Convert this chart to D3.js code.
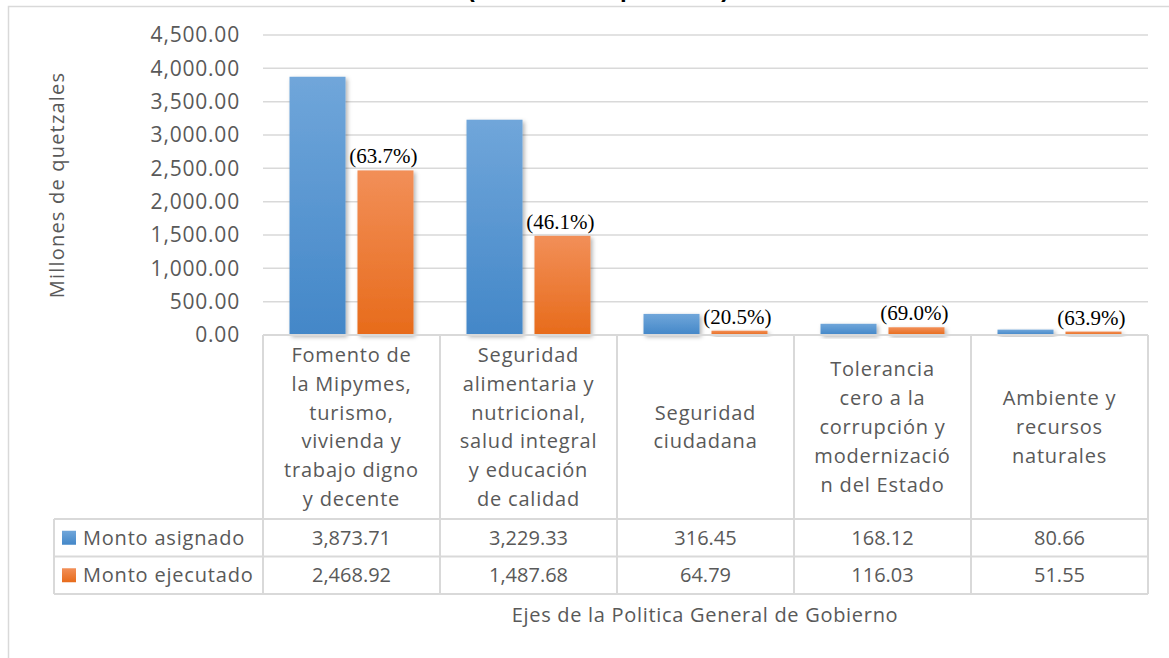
<!DOCTYPE html>
<meta charset="utf-8">
<script src="https://d3js.org/d3.v7.min.js"></script>
<style>
  body { margin: 0; background: #fff; }
  text { font-family: "Open Sans", Lato, sans-serif; }
</style>
<div id="chart"></div>
<script>

var categories = [
  ["Fomento de", "la Mipymes,", "turismo,", "vivienda y", "trabajo digno", "y decente"],
  ["Seguridad", "alimentaria y", "nutricional,", "salud integral", "y educación", "de calidad"],
  ["Seguridad", "ciudadana"],
  ["Tolerancia", "cero a la", "corrupción y", "modernizació", "n del Estado"],
  ["Ambiente y", "recursos", "naturales"]
];
var seriesNames = ["Monto asignado", "Monto ejecutado"];
var asignado = [3873.71, 3229.33, 316.45, 168.12, 80.66];
var ejecutado = [2468.92, 1487.68, 64.79, 116.03, 51.55];
var tableAsignado = ["3,873.71", "3,229.33", "316.45", "168.12", "80.66"];
var tableEjecutado = ["2,468.92", "1,487.68", "64.79", "116.03", "51.55"];
var pctLabels = ["(63.7%)", "(46.1%)", "(20.5%)", "(69.0%)", "(63.9%)"];
var yTicks = [0, 500, 1000, 1500, 2000, 2500, 3000, 3500, 4000, 4500];

var width = 1169,
  height = 658,
  plotLeft = 263,
  plotRight = 1148,
  plotTop = 35,
  plotBottom = 335,
  headerBottom = 519,
  rowH = 37.5,
  tableLeft = 54,
  fontSize = "20px",
  spacing = "0.8px",
  gridColor = "#d9d9d9",
  textColor = "#595959";

var svg = d3.select("#chart")
  .append("svg")
    .attr("width", width)
    .attr("height", height);

var defs = svg.append("defs");

function grad(id, top, bottom) {
  var g = defs.append("linearGradient").attr("id", id)
    .attr("x1", 0).attr("y1", 0).attr("x2", 0).attr("y2", 1);
  g.append("stop").attr("offset", "0%").attr("stop-color", top);
  g.append("stop").attr("offset", "100%").attr("stop-color", bottom);
}
grad("gBlue", "#70a6da", "#4387c8");
grad("gOrange", "#f28f58", "#e76b1b");

defs.append("filter").attr("id", "shadow")
    .attr("x", "-20%").attr("y", "-20%").attr("width", "150%").attr("height", "150%")
  .append("feDropShadow")
    .attr("dx", 2).attr("dy", 2).attr("stdDeviation", 2)
    .attr("flood-color", "#000").attr("flood-opacity", 0.3);

// title, mostly cut off at the top (as in the source image)
svg.append("text")
  .attr("x", 598).attr("y", -3)
  .attr("text-anchor", "middle")
  .style("font-family", "'Liberation Sans', sans-serif")
  .style("font-weight", "bold")
  .style("font-size", "24px")
  .style("fill", "#000")
  .text("(Millones de quetzales)");

// chart border
svg.append("path")
  .attr("d", "M8.5," + height + " V6.5 H" + width)
  .attr("fill", "none")
  .attr("stroke", gridColor)
  .attr("stroke-width", 1.5);

var x = d3.scaleBand().domain(d3.range(categories.length)).range([plotLeft, plotRight]);
var xs = d3.scaleBand().domain([0, 1]).range([0, x.bandwidth()]).paddingInner(0.176).paddingOuter(0.39);
var y = d3.scaleLinear().domain([0, 4500]).range([plotBottom, plotTop]);

// gridlines
svg.selectAll("line.grid")
  .data(yTicks.slice(1))
  .enter()
  .append("line")
    .attr("x1", plotLeft).attr("x2", plotRight)
    .attr("y1", function(d){ return y(d) })
    .attr("y2", function(d){ return y(d) })
    .attr("stroke", gridColor)
    .attr("stroke-width", 1.5);

// y tick labels
svg.selectAll("text.ytick")
  .data(yTicks)
  .enter()
  .append("text")
    .attr("x", 240)
    .attr("y", function(d){ return y(d) })
    .attr("dy", "0.35em")
    .attr("text-anchor", "end")
    .style("font-size", "21px")
    .style("letter-spacing", spacing)
    .style("fill", textColor)
    .text(function(d){ return d3.format(",.2f")(d) });

svg.append("text")
  .attr("transform", "translate(64,185) rotate(-90)")
  .attr("text-anchor", "middle")
  .style("font-size", fontSize)
  .style("letter-spacing", "1.2px")
  .style("fill", textColor)
  .text("Millones de quetzales");

// bars
var series = [
  {values: asignado, fill: "url(#gBlue)"},
  {values: ejecutado, fill: "url(#gOrange)"}
];
series.forEach(function(s, si) {
  svg.selectAll("rect.bar" + si)
    .data(s.values)
    .enter()
    .append("rect")
      .attr("x", function(d, i){ return x(i) + xs(si) })
      .attr("y", function(d){ return y(d) })
      .attr("width", xs.bandwidth())
      .attr("height", function(d){ return y(0) - y(d) })
      .attr("fill", s.fill)
      .attr("filter", "url(#shadow)");
});

// percentage labels over executed bars
svg.selectAll("text.pct")
  .data(ejecutado)
  .enter()
  .append("text")
    .attr("x", function(d, i){ return x(i) + xs(1) + xs.bandwidth() / 2 - 2 })
    .attr("y", function(d){ return y(d) - 7 })
    .attr("text-anchor", "middle")
    .style("font-family", "'Liberation Serif', serif")
    .style("font-size", "21px")
    .style("fill", "#000")
    .text(function(d, i){ return pctLabels[i] });

// data table
var tbl = svg.append("g")
  .attr("fill", "none")
  .attr("stroke", gridColor)
  .attr("stroke-width", 2);

var tableBottom = headerBottom + rowH * 2;
x.domain().concat([categories.length]).forEach(function(i) {
  var xx = i < categories.length ? x(i) : plotRight;
  tbl.append("line").attr("x1", xx).attr("x2", xx).attr("y1", plotBottom).attr("y2", tableBottom);
});
tbl.append("line").attr("x1", tableLeft).attr("x2", tableLeft).attr("y1", headerBottom).attr("y2", tableBottom);
tbl.append("line").attr("x1", plotLeft).attr("x2", plotRight).attr("y1", plotBottom).attr("y2", plotBottom);
[0, 1, 2].forEach(function(r) {
  var yy = headerBottom + r * rowH;
  tbl.append("line").attr("x1", tableLeft).attr("x2", plotRight).attr("y1", yy).attr("y2", yy);
});

// category headers
var lineH = 28.8;
categories.forEach(function(lines, i) {
  var cy = (plotBottom + headerBottom) / 2 - (lines.length - 1) * lineH / 2;
  svg.append("text")
    .attr("text-anchor", "middle")
    .style("font-size", fontSize)
    .style("letter-spacing", spacing)
    .style("fill", textColor)
    .selectAll("tspan")
    .data(lines)
    .enter()
    .append("tspan")
      .attr("x", x(i) + x.bandwidth() / 2)
      .attr("y", function(d, j){ return cy + j * lineH })
      .attr("dy", "0.35em")
      .text(function(d){ return d });
});

// legend keys and values
var legendFills = ["url(#gBlue)", "url(#gOrange)"];
var tableRows = [tableAsignado, tableEjecutado];
seriesNames.forEach(function(name, r) {
  var cy = headerBottom + rowH * r + rowH / 2;
  svg.append("rect")
    .attr("x", 62).attr("y", cy - 7)
    .attr("width", 14).attr("height", 14)
    .attr("fill", legendFills[r]);
  svg.append("text")
    .attr("x", 83).attr("y", cy).attr("dy", "0.35em")
    .style("font-size", fontSize)
    .style("letter-spacing", spacing)
    .style("fill", textColor)
    .text(name);
  svg.selectAll("text.val" + r)
    .data(tableRows[r])
    .enter()
    .append("text")
      .attr("x", function(d, i){ return x(i) + x.bandwidth() / 2 })
      .attr("y", cy)
      .attr("dy", "0.35em")
      .attr("text-anchor", "middle")
      .style("font-size", fontSize)
      .style("fill", textColor)
      .text(function(d){ return d });
});

svg.append("text")
  .attr("x", 705).attr("y", 615).attr("dy", "0.35em")
  .attr("text-anchor", "middle")
  .style("font-size", fontSize)
  .style("letter-spacing", "0.7px")
  .style("fill", textColor)
  .text("Ejes de la Politica General de Gobierno");

</script>
